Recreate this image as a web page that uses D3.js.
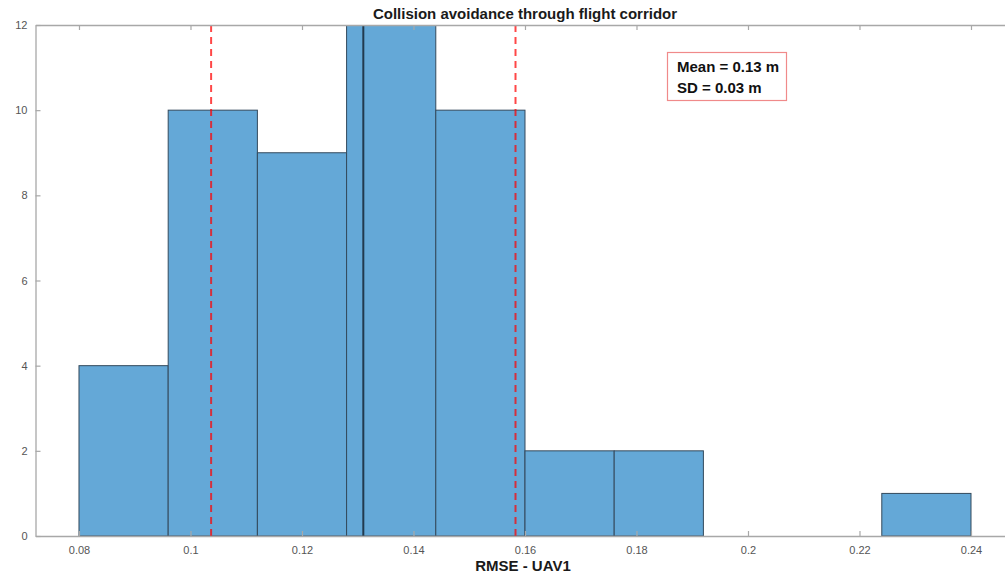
<!DOCTYPE html>
<html>
<head>
<meta charset="utf-8">
<script src="https://cdn.jsdelivr.net/npm/d3@7"></script>
<style>
  html, body { margin: 0; padding: 0; background: #fff; }
  svg { display: block; font-family: "Liberation Sans", Arial, Helvetica, sans-serif; }
</style>
</head>
<body>
<svg id="chart" width="1005" height="573"></svg>
<script>
// Histogram bins (RMSE, metres) and counts per bin
const binEdges = [0.080, 0.096, 0.112, 0.128, 0.144, 0.160, 0.176, 0.192, 0.208, 0.224, 0.240];
const counts   = [4, 10, 9, 14, 10, 2, 2, 0, 0, 1];
const xTicks   = [0.08, 0.10, 0.12, 0.14, 0.16, 0.18, 0.20, 0.22, 0.24];
const yTicks   = [0, 2, 4, 6, 8, 10, 12];
const meanVal  = 0.131;
const sdVal    = 0.0273;
const statLines = ["Mean = 0.13 m", "SD = 0.03 m"];

const svg = d3.select("#chart");
const plotLeft = 35.5, plotRight = 1005, plotTop = 25, plotBottom = 536;

const x = d3.scaleLinear().domain([0.0722, 0.2461]).range([plotLeft, plotRight]);
const y = d3.scaleLinear().domain([0, 12]).range([plotBottom, plotTop]);

svg.append("defs").append("clipPath").attr("id", "plotClip")
  .append("rect").attr("x", plotLeft).attr("y", plotTop)
  .attr("width", plotRight - plotLeft).attr("height", plotBottom - plotTop);

const plot = svg.append("g").attr("clip-path", "url(#plotClip)");

// Bars
const bins = counts.map((c, i) => ({ x0: binEdges[i], x1: binEdges[i + 1], c }));
plot.selectAll("rect.bar").data(bins.filter(d => d.c > 0)).join("rect")
  .attr("class", "bar")
  .attr("x", d => x(d.x0))
  .attr("width", d => x(d.x1) - x(d.x0))
  .attr("y", d => y(d.c))
  .attr("height", d => y(0) - y(d.c))
  .attr("fill", "#64a8d7")
  .attr("stroke", "#33495c")
  .attr("stroke-width", 1);

// Mean line
plot.append("line")
  .attr("x1", x(meanVal)).attr("x2", x(meanVal))
  .attr("y1", y(0)).attr("y2", y(12))
  .attr("stroke", "#223a4e").attr("stroke-width", 2);

// Mean ± SD lines
plot.selectAll("line.sd").data([meanVal - sdVal, meanVal + sdVal]).join("line")
  .attr("class", "sd")
  .attr("x1", d => x(d)).attr("x2", d => x(d))
  .attr("y1", y(12)).attr("y2", y(0))
  .attr("stroke", "rgba(255,0,0,0.72)")
  .attr("stroke-width", 2)
  .attr("stroke-dasharray", "7,5");

// Axes
const axisColor = "#a8a8a8";
const fmt = d => String(+d.toFixed(2));

const xAxis = svg.append("g").attr("transform", `translate(0,${plotBottom})`)
  .call(d3.axisBottom(x).tickValues(xTicks).tickSize(-5).tickPadding(10).tickFormat(fmt).tickSizeOuter(0));
const xAxisTop = svg.append("g").attr("transform", `translate(0,${plotTop})`)
  .call(d3.axisTop(x).tickValues(xTicks).tickSize(-5).tickFormat("").tickSizeOuter(0));
const yAxis = svg.append("g").attr("transform", `translate(${plotLeft},0)`)
  .call(d3.axisLeft(y).tickValues(yTicks).tickSize(-5).tickPadding(8).tickSizeOuter(0));

[xAxis, xAxisTop, yAxis].forEach(g => {
  g.select(".domain").attr("stroke", axisColor).attr("stroke-width", 1.3);
  g.selectAll(".tick line").attr("stroke", axisColor).attr("stroke-width", 1.2);
  g.selectAll(".tick text").attr("fill", "#555").attr("font-size", 11)
    .attr("font-family", "Liberation Sans, Arial, sans-serif");
});

// Title and axis label
svg.append("text").attr("x", 525).attr("y", 19).attr("text-anchor", "middle")
  .attr("font-size", 15).attr("font-weight", "bold").attr("fill", "#1a1a1a")
  .text("Collision avoidance through flight corridor");
svg.append("text").attr("x", 523).attr("y", 571).attr("text-anchor", "middle")
  .attr("font-size", 15).attr("font-weight", "bold").attr("fill", "#1a1a1a")
  .text("RMSE - UAV1");

// Statistics box
const box = svg.append("g").attr("transform", "translate(667,52)");
box.append("rect").attr("x", 0.5).attr("y", 0.5).attr("width", 119).attr("height", 48)
  .attr("fill", "#fff").attr("stroke", "#f08a8a").attr("stroke-width", 1.2);
box.selectAll("text").data(statLines).join("text")
  .attr("x", 10).attr("y", (d, i) => 20 + i * 20.5)
  .attr("font-size", 15).attr("font-weight", "bold").attr("fill", "#111")
  .text(d => d);
</script>
</body>
</html>
